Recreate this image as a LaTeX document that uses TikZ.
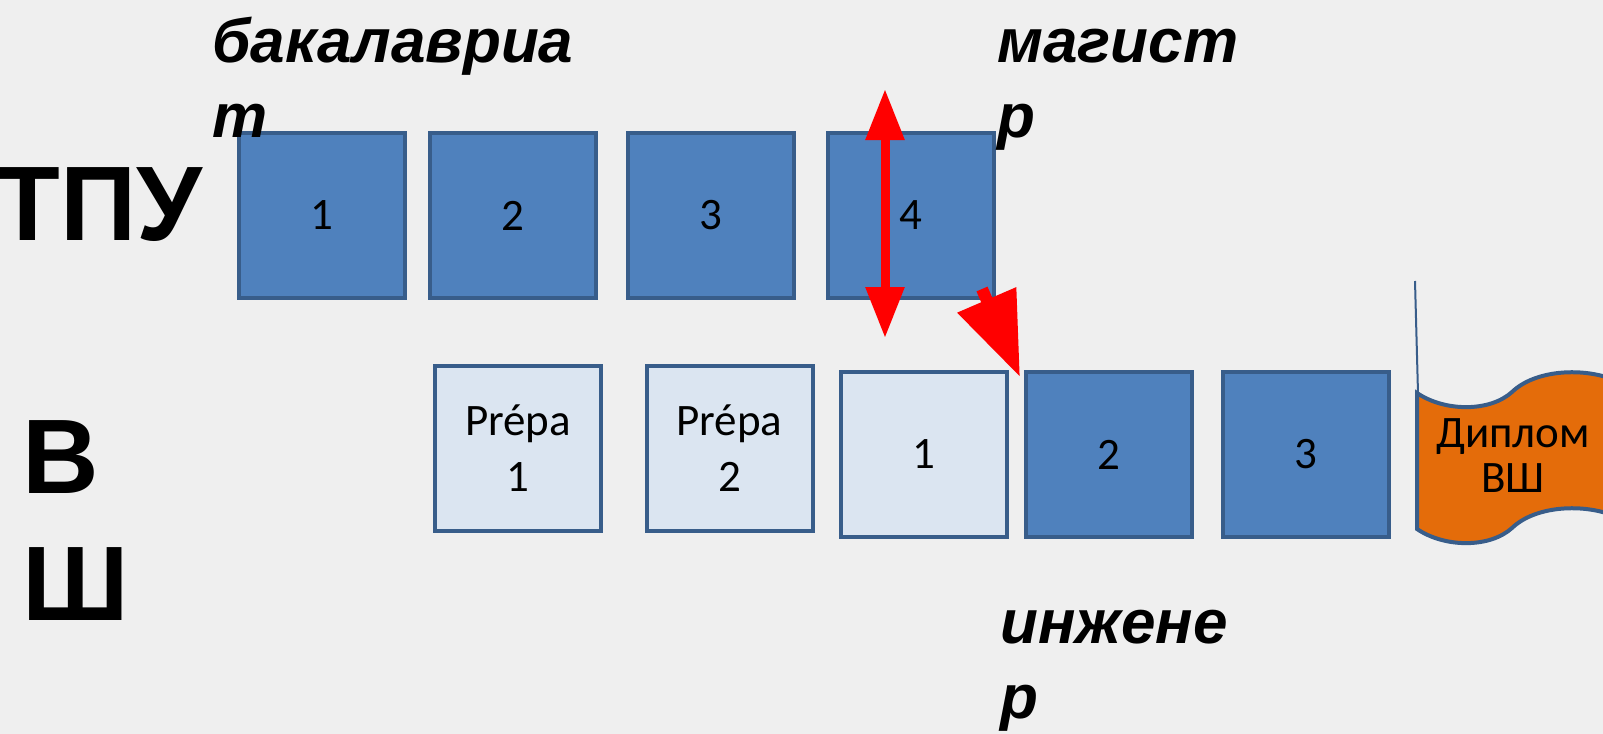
\documentclass[tikz,border=0pt]{standalone}
\usepackage{fontspec}
\setmainfont{Carlito}
\newfontfamily\arialfont{Liberation Sans}
\usepackage{tikz}
\usetikzlibrary{positioning,arrows.meta}
\definecolor{boxblue}{HTML}{4F81BD}
\definecolor{boxline}{HTML}{385D8A}
\definecolor{boxlight}{HTML}{DBE5F1}
\definecolor{diplorange}{HTML}{E46C0A}
\definecolor{bggray}{HTML}{EFEFEF}
\begin{document}
\begin{tikzpicture}[x=0.5pt,y=-0.5pt,on grid,
    year/.style={draw=boxline,line width=2pt,fill=boxblue,minimum width=83pt,minimum height=82.5pt,inner sep=0pt,align=center,font=\fontsize{22.5}{28}\selectfont},
    prepyear/.style={year,fill=boxlight},
    schoolname/.style={font=\arialfont\bfseries\fontsize{53}{63.5}\selectfont,inner sep=0pt,align=left},
    degree/.style={font=\arialfont\bfseries\itshape\fontsize{31}{37.5}\selectfont,inner sep=0pt,align=left,anchor=base west},
    move/.style={red,line width=4.5pt}]
    \clip (0,0) rectangle (1603,734);
    \fill[bggray] (0,0) rectangle (1603,734);
    \node[year] (b1) at (322,215.5) {1};
    \node[year] (b2) [right=95.5pt of b1] {2};
    \node[year] (b3) [right=99pt of b2] {3};
    \node[year] (b4) [right=100pt of b3] {4};
    \node[prepyear] (p1) at (518,448) {Prépa\\1};
    \node[prepyear] (p2) [right=105.75pt of p1] {Prépa\\2};
    \node[prepyear] (e1) at (923.5,454.5) {1};
    \node[year] (e2) [right=92.5pt of e1] {2};
    \node[year] (e3) [right=98.75pt of e2] {3};
    \draw[boxline,line width=1pt] (1415,281) -- (1418,393);
    \draw[boxline,line width=2pt,fill=diplorange] (1417,393) .. controls (1445,412) and (1490,412) .. (1512,392) .. controls (1535,370) and (1580,368) .. (1609,378) -- (1609,514) .. controls (1580,504) and (1535,506) .. (1512,528) .. controls (1490,548) and (1445,548) .. (1417,529) -- cycle;
    \node[font=\fontsize{22.5}{22.5}\selectfont,align=center] (dipl) at (1513,456) {Диплом\\ВШ};
    \node[schoolname,anchor=base east] (tpu) at (203,240) {ТПУ};
    \node[schoolname,anchor=base west] (vsh) at (22,620) {В\\Ш};
    \node[degree] (bach) at (212,137) {бакалавриа\\т};
    \node[degree] (mast) at (997,137) {магист\\р};
    \node[degree] (eng) at (1000,718) {инжене\\р};
    \coordinate (up) at (885,89);
    \coordinate (down) at (885,338);
    \coordinate (tail) at (982,289);
    \coordinate (tip) at (1020,377);
    \draw[move,{Triangle[width=18.5pt,length=25.5pt]}-{Triangle[width=18.5pt,length=25.5pt]}] (up) -- (down);
    \draw[move,line width=6pt,-{Triangle[width=30.5pt,length=42pt]}] (tail) -- (tip);
\end{tikzpicture}
\end{document}
